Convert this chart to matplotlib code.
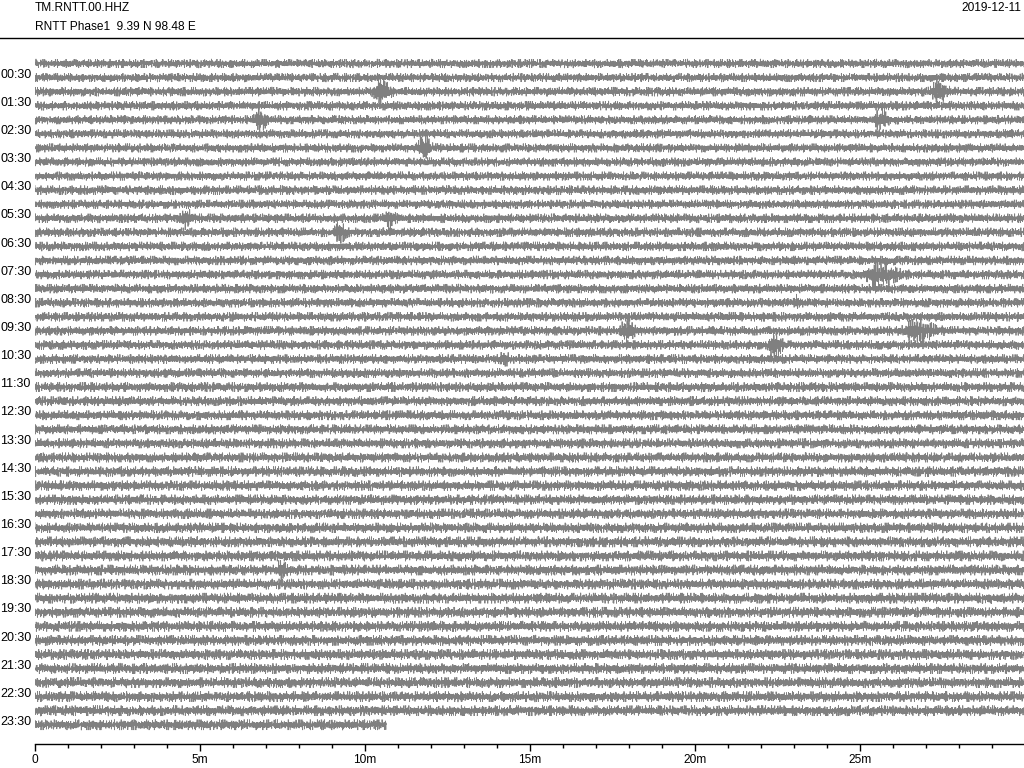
import numpy as np
import matplotlib
matplotlib.use("Agg")
import matplotlib.pyplot as plt
from matplotlib.transforms import blended_transform_factory

plt.rcParams['font.family'] = ['Liberation Sans', 'DejaVu Sans']

# ---------------- data ----------------
station = "TM.RNTT.00.HHZ"
subtitle = "RNTT Phase1  9.39 N 98.48 E"
date_label = "2019-12-11"

n_rows = 48                      # 30-minute lines, 00:00 .. 23:30
row_minutes = 30.0
last_row_end = 10.64             # minutes of data in the final line
row_labels = ["%02d:30" % h for h in range(24)]   # labels on every odd line
tick_major = [0, 5, 10, 15, 20, 25]
tick_major_labels = ["0", "5m", "10m", "15m", "20m", "25m"]

# background noise level of each line (fraction of line spacing)
noise_level = [0.21, 0.21, 0.22, 0.22, 0.21, 0.21, 0.21, 0.21, 0.21, 0.22,
               0.21, 0.22, 0.22, 0.22, 0.22, 0.22, 0.22, 0.22, 0.22, 0.22,
               0.22, 0.22, 0.22, 0.23, 0.23, 0.23, 0.23, 0.23, 0.23, 0.24,
               0.24, 0.24, 0.24, 0.24, 0.25, 0.25, 0.25, 0.25, 0.25, 0.25,
               0.25, 0.25, 0.25, 0.25, 0.25, 0.25, 0.25, 0.25]

# events: line index, centre minute, amplitude (fraction of spacing), duration (min)
ev_row = [2, 2, 4, 4, 6, 11, 11, 12, 15, 17, 19, 19, 20, 21, 36]
ev_min = [10.45, 27.35, 6.8, 25.6, 11.75, 4.55, 10.7, 9.2, 25.55, 23.1, 17.9, 26.7, 22.4, 14.2, 7.45]
ev_amp = [0.55, 0.50, 0.42, 0.40, 0.55, 0.42, 0.38, 0.50, 0.45, 0.25, 0.50, 0.45, 0.50, 0.20, 0.45]
ev_dur = [0.60, 0.60, 0.50, 0.50, 0.50, 0.40, 0.40, 0.40, 1.30, 0.20, 0.50, 1.20, 0.50, 0.40, 0.30]

# ---------------- figure ----------------
W, H = 1024, 768
FS = 8.6
fig = plt.figure(figsize=(W / 100, H / 100), dpi=100)

x0_px, x1_px = 35, 1025
top_px, bot_px = 50, 744
row0_px, row_step_px = 63.5, 14.07
ax = fig.add_axes([x0_px / W, 1 - bot_px / H, (x1_px - x0_px) / W, (bot_px - top_px) / H])
ax.set_xlim(0, row_minutes)
ax.set_ylim((bot_px - row0_px) / row_step_px, (top_px - row0_px) / row_step_px)

samples_per_min = 220
freqs = np.array([0.9173, 1.3817, 2.0713, 2.6531, 1.7291, 0.5413, 2.9177])
freqs2 = np.array([0.3119, 0.7457, 1.1933, 0.2267, 0.8861])
phase_mult = np.array([1.13, 2.31, 0.77, 3.07, 1.91, 2.63, 0.59])

for r in range(n_rows):
    tmax = last_row_end if r == n_rows - 1 else row_minutes
    n = int(tmax * samples_per_min)
    t = np.linspace(0, tmax, n)
    idx = np.arange(n)
    c = np.zeros(n)
    for k in range(len(freqs)):
        c += np.sin(freqs[k] * idx + phase_mult[k] * (r + 1) * 1.7)
    c /= 3.0
    g = np.zeros(n)
    for k in range(len(freqs2)):
        g += np.sin(freqs2[k] * idx + phase_mult[k] * (r + 3) * 0.9)
    g /= 2.6
    c = c * (0.75 + 0.7 * g ** 4)
    c = np.clip(c, -1.5, 1.5)
    amp = np.full(n, noise_level[r])
    for er, em, ea, ed in zip(ev_row, ev_min, ev_amp, ev_dur):
        if er == r:
            sig = np.where(t < em, ed / 6.0, ed / 3.5)
            amp = amp + ea * np.exp(-0.5 * ((t - em) / sig) ** 2)
    ax.plot(t, r - amp * c, color='#808080', lw=0.6, solid_joinstyle='miter')

for sp in ['left', 'right', 'top']:
    ax.spines[sp].set_visible(False)
ax.spines['bottom'].set_linewidth(1.0)
ax.set_yticks([])
ax.set_xticks(tick_major)
ax.set_xticklabels(tick_major_labels, fontsize=FS)
ax.set_xticks(np.arange(0, 30, 1), minor=True)
ax.tick_params(axis='x', which='major', length=5, width=1.0, direction='out', pad=2)
ax.tick_params(axis='x', which='minor', length=3, width=1.0, direction='out')

trans = blended_transform_factory(fig.transFigure, ax.transData)
for h, lab in enumerate(row_labels):
    ax.text(0.5 / W, 2 * h + 1 - 0.2, lab, transform=trans, ha='left', va='center', fontsize=9.0)

fig.text(35 / W, 1 - 8 / H, station, ha='left', va='center', fontsize=FS)
fig.text(35 / W, 1 - 27 / H, subtitle, ha='left', va='center', fontsize=FS)
fig.text(1021 / W, 1 - 8 / H, date_label, ha='right', va='center', fontsize=FS)
fig.add_artist(plt.Line2D([0, 1], [1 - 38 / H, 1 - 38 / H], transform=fig.transFigure, color='black', lw=1.0))

fig.savefig("out.png", dpi=100)
